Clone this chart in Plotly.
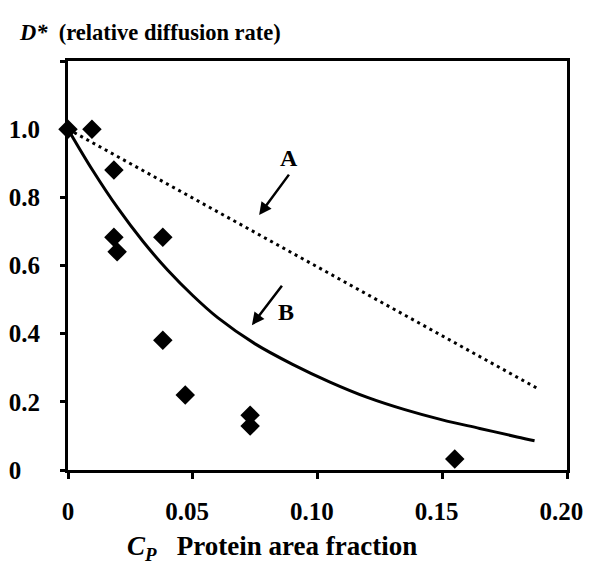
import plotly.graph_objects as go

# Measured data points (diamonds)
data_x = [0.0, 0.0096, 0.0184, 0.0184, 0.0197, 0.038, 0.038, 0.047, 0.073, 0.073, 0.155]
data_y = [1.0, 1.0, 0.88, 0.683, 0.64, 0.683, 0.381, 0.22, 0.161, 0.129, 0.032]

# Curve A (dotted, straight)
curve_a_x = [0.0, 0.0529, 0.117, 0.188]
curve_a_y = [1.0, 0.786, 0.527, 0.24]

# Curve B (solid)
curve_b_x = [0.0, 0.010, 0.020, 0.030, 0.040, 0.050, 0.060, 0.075, 0.090, 0.105,
             0.120, 0.135, 0.150, 0.165, 0.180, 0.187]
curve_b_y = [1.0, 0.878, 0.768, 0.671, 0.586, 0.512, 0.447, 0.37, 0.31, 0.258,
             0.213, 0.177, 0.147, 0.122, 0.097, 0.086]

nb = "\u00a0"
pad = "\u00a0\u2009"
x_ticks = [0, 0.05, 0.10, 0.15, 0.20]
x_tick_labels = ["0", "0.05" + pad, "0.10" + pad, "0.15" + pad, "0.20" + pad]
y_ticks = [0, 0.2, 0.4, 0.6, 0.8, 1.0, 1.2]
y_tick_labels = ["0" + nb * 3, "0.2", "0.4", "0.6", "0.8", "1.0", ""]

FONT = "Liberation Serif"

fig = go.Figure()
fig.add_trace(go.Scatter(x=curve_a_x, y=curve_a_y, mode="lines",
                         line=dict(color="black", width=3, dash="3px,4px"),
                         hoverinfo="skip", showlegend=False))
fig.add_trace(go.Scatter(x=curve_b_x, y=curve_b_y, mode="lines",
                         line=dict(color="black", width=3, shape="spline", smoothing=1),
                         hoverinfo="skip", showlegend=False))
fig.add_trace(go.Scatter(x=data_x, y=data_y, mode="markers",
                         marker=dict(symbol="diamond", size=15, color="black",
                                     line=dict(color="black", width=0)),
                         cliponaxis=False, showlegend=False))

axis_common = dict(showgrid=False, zeroline=False, showline=True, linecolor="black",
                   linewidth=3, mirror=True, ticks="outside", tickcolor="black",
                   tickwidth=3, automargin=False, ticklabeloverflow="allow",
                   tickfont=dict(family=FONT, size=25, color="black", weight="bold"))

fig.update_xaxes(range=[0, 0.2], tickvals=x_ticks, ticktext=x_tick_labels,
                 ticklen=6, ticklabelstandoff=11, **axis_common)
fig.update_yaxes(range=[0, 1.2], tickvals=y_ticks, ticktext=y_tick_labels,
                 ticklen=5, ticklabelstandoff=15, **axis_common)

annotations = [
    # arrow A
    dict(x=0.0766, y=0.748, ax=0.089, ay=0.871, xref="x", yref="y", axref="x", ayref="y",
         showarrow=True, arrowhead=2, arrowsize=1, arrowwidth=2.5, arrowcolor="black", text=""),
    dict(x=0.0885, y=0.915, xref="x", yref="y", text="<b>A</b>", showarrow=False,
         font=dict(family=FONT, size=24, color="black")),
    # arrow B
    dict(x=0.0737, y=0.425, ax=0.0862, ay=0.545, xref="x", yref="y", axref="x", ayref="y",
         showarrow=True, arrowhead=2, arrowsize=1, arrowwidth=2.5, arrowcolor="black", text=""),
    dict(x=0.0875, y=0.465, xref="x", yref="y", text="<b>B</b>", showarrow=False,
         font=dict(family=FONT, size=24, color="black")),
    # x-axis title
    dict(x=(125 - 68) / 499, y=(470 - 548) / 409, xref="paper", yref="paper",
         xanchor="left", yanchor="middle", showarrow=False,
         text="<b><i>C<sub>P</sub></i>" + nb * 3 + "Protein area fraction</b>",
         font=dict(family=FONT, size=27, color="black")),
]

fig.update_layout(
    width=584, height=559,
    margin=dict(l=60, r=25, t=53, b=97),
    paper_bgcolor="white", plot_bgcolor="white",
    showlegend=False,
    title=dict(text="<b><i>D*</i>" + nb * 2 + "(relative diffusion rate)</b>",
               x=12 / 584, xanchor="left", xref="container",
               y=1 - 24 / 559, yanchor="middle", yref="container",
               font=dict(family=FONT, size=22.5, color="black")),
    annotations=annotations,
)

fig.write_html("out.html")
